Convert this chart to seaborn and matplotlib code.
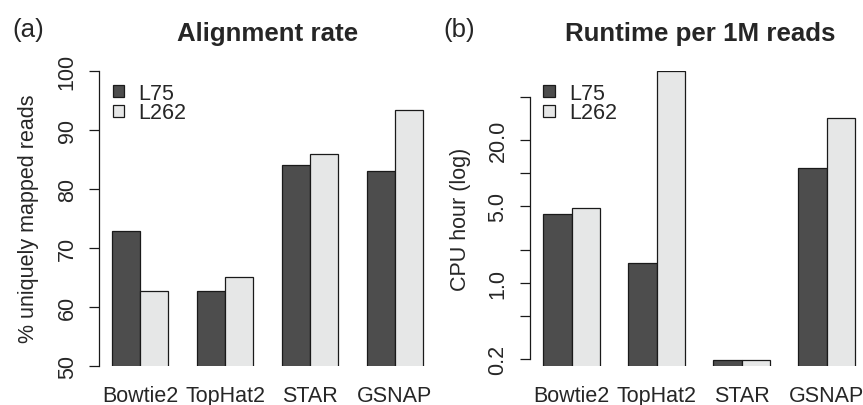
import pandas as pd
import numpy as np
import seaborn as sns
import matplotlib.pyplot as plt
from matplotlib.patches import Patch

# data
tools = ['Bowtie2', 'TopHat2', 'STAR', 'GSNAP']
libs = ['L75', 'L262']
align_l75 = [72.8, 62.7, 84.1, 83.0]
align_l262 = [62.7, 65.0, 85.8, 93.4]
runtime_l75 = [4.25, 1.50, 0.195, 11.1]
runtime_l262 = [4.82, 86.7, 0.195, 32.2]
log_ticks = [0.2, 0.5, 1.0, 2.0, 5.0, 10.0, 20.0, 50.0]
log_labels = ['0.2', '', '1.0', '', '5.0', '', '20.0', '']

DARK = '#4d4d4d'
LIGHT = '#e6e7e7'

sns.set_style('white')
plt.rcParams['font.family'] = ['Liberation Sans', 'DejaVu Sans']

align = pd.DataFrame({'tool': tools * 2, 'lib': ['L75'] * 4 + ['L262'] * 4,
                      'value': align_l75 + align_l262})
runtime = pd.DataFrame({'tool': tools * 2, 'lib': ['L75'] * 4 + ['L262'] * 4,
                        'value': runtime_l75 + runtime_l262})

W, H = 863, 406
fig = plt.figure(figsize=(W / 100, H / 100), dpi=100)

def px_axes(x0, x1, y0, y1):
    # pixel box (top-left origin) -> figure fraction
    return fig.add_axes([x0 / W, 1 - y1 / H, (x1 - x0) / W, (y1 - y0) / H])

ax1 = px_axes(99.3, 430, 71.7, 366.7)
ax2 = px_axes(530, 863, 71.7, 366.7)

FS = 15.5

for ax, df in [(ax1, align), (ax2, runtime)]:
    sns.barplot(data=df, x='tool', y='value', hue='lib', hue_order=libs,
                palette=[DARK, LIGHT], width=2 / 3, gap=0, ax=ax,
                edgecolor='#1a1a1a', linewidth=0.9, legend=False,
                saturation=1)
    for sp in ['top', 'right', 'bottom']:
        ax.spines[sp].set_visible(False)
    ax.spines['left'].set_color('#1a1a1a')
    ax.spines['left'].set_linewidth(0.9)
    ax.set_xlabel('')
    ax.tick_params(axis='x', length=0, pad=14, labelsize=FS)
    ax.tick_params(axis='y', left=True, length=7.5, width=0.9,
                   color='#1a1a1a', pad=8, labelsize=FS)
    ax.legend(handles=[Patch(facecolor=DARK, edgecolor='#1a1a1a', lw=0.9, label='L75'),
                       Patch(facecolor=LIGHT, edgecolor='#1a1a1a', lw=0.9, label='L262')],
              loc='upper left', frameon=False, fontsize=FS,
              handlelength=0.55, handleheight=0.45, handletextpad=0.65,
              labelspacing=-0.05, borderpad=0, borderaxespad=0,
              bbox_to_anchor=(0.04, 0.96))

ax1.set_xlim(-0.479, 3.412)
ax1.set_ylim(50, 100)
ax1.set_yticks([50, 60, 70, 80, 90, 100])
ax1.set_yticklabels(['50', '60', '70', '80', '90', '100'], rotation=90, va='center')
ax1.set_ylabel('% uniquely mapped reads', fontsize=FS, labelpad=13)
ax1.spines['left'].set_bounds(50, 100)

ax2.set_yscale('log')
ax2.set_xlim(-0.49, 3.428)
ax2.set_ylim(0.174, 86.7)
ax2.set_yticks(log_ticks)
ax2.set_yticklabels(log_labels, rotation=90, va='center')
ax2.minorticks_off()
ax2.set_ylabel('CPU hour (log)', fontsize=FS, labelpad=12)
ax2.spines['left'].set_bounds(0.2, 50)

fig.text(268 / W, 1 - 34 / H, 'Alignment rate', ha='center', va='center',
         fontsize=FS * 1.2, fontweight='bold')
fig.text(700 / W, 1 - 34 / H, 'Runtime per 1M reads', ha='center', va='center',
         fontsize=FS * 1.2, fontweight='bold')
fig.text(12 / W, 1 - 30 / H, '(a)', ha='left', va='center', fontsize=FS * 1.2)
fig.text(443 / W, 1 - 30 / H, '(b)', ha='left', va='center', fontsize=FS * 1.2)

fig.savefig('out.png', dpi=100)
